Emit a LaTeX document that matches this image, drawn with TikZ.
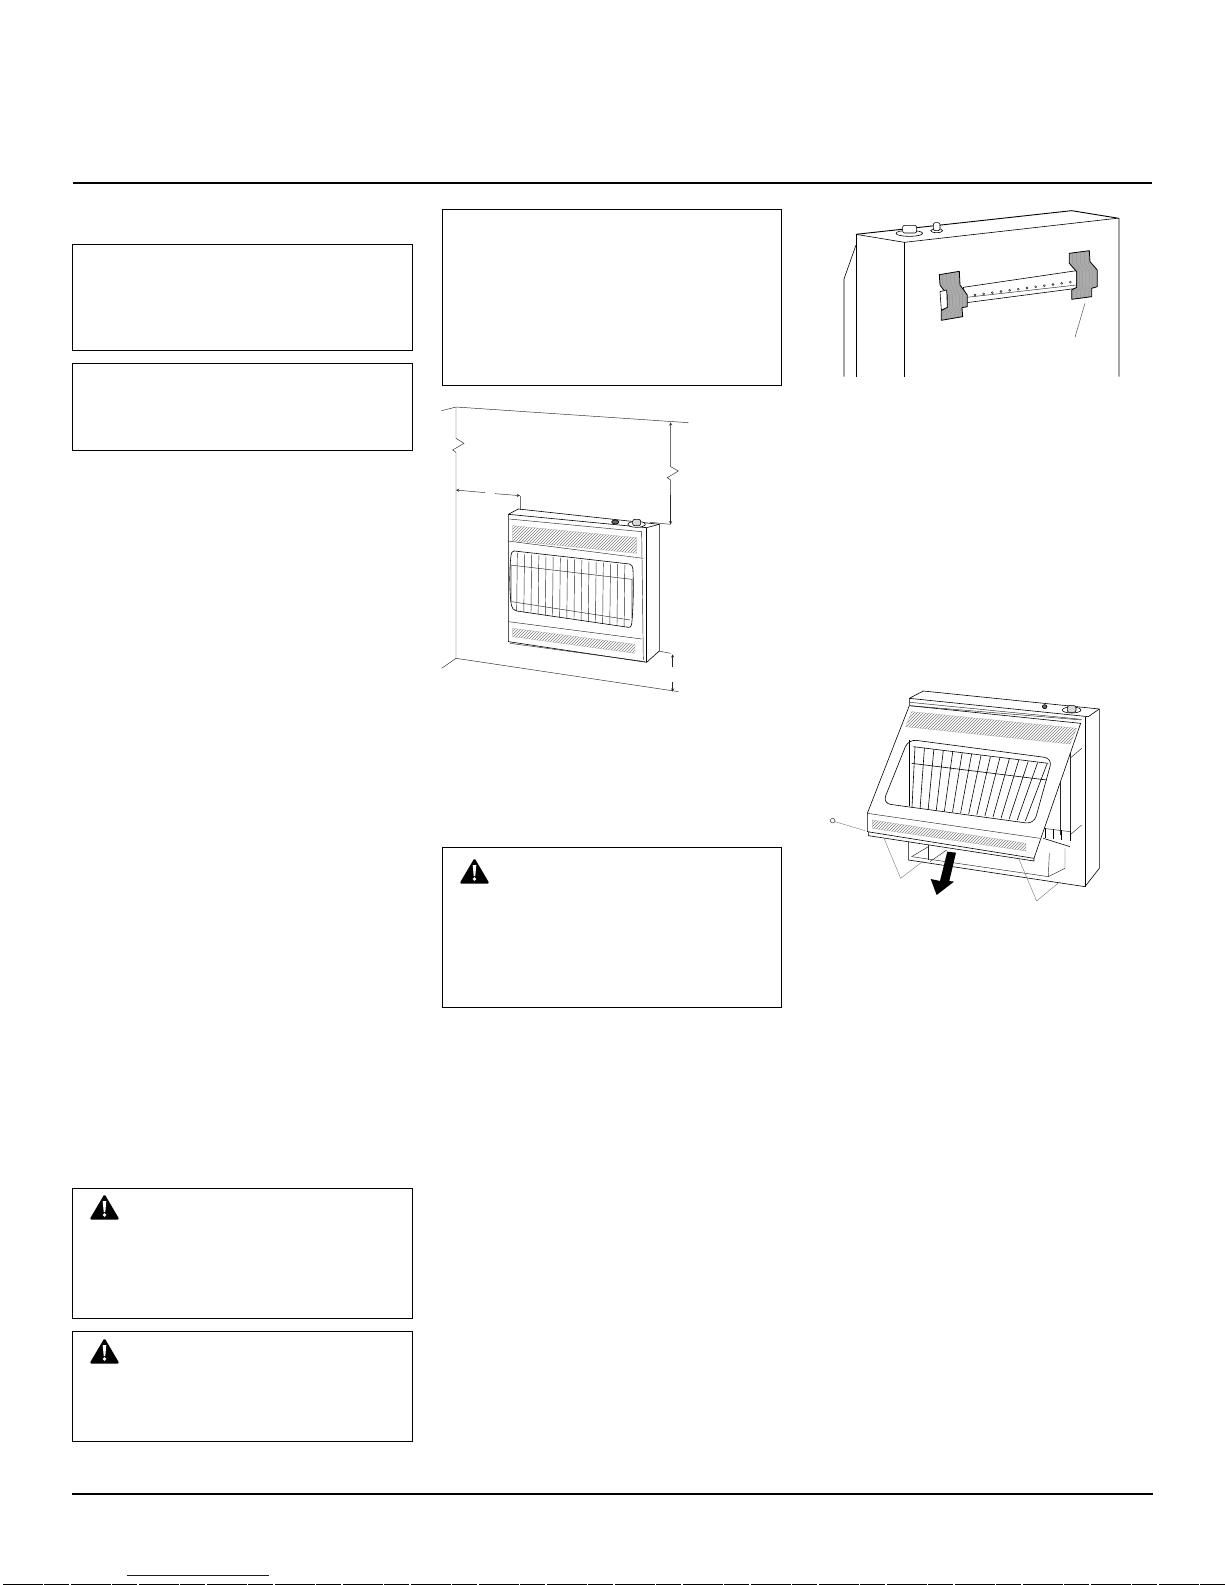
\documentclass[tikz,border=0pt]{standalone}
\usepackage{tikz}
\usetikzlibrary{arrows, patterns}
\tikzset{>=stealth}
\newcommand{\tapeleft}{(358,224)--(418,214)--(420,255)--(442,285)--(442,320)--(426,323)--(428,350)--(364,361)--(364,332)--(382,322)--(382,285)--(360,255)--cycle}
\newcommand{\taperight}{(748,160)--(808,152)--(810,185)--(832,210)--(832,260)--(815,265)--(815,290)--(755,298)--(755,270)--(770,262)--(770,215)--(748,190)--cycle}
\tikzset{
	zoomed/.style 2 args={shift={(#1,#2)},x=0.3333pt,y=-0.3333pt},
	boxline/.style={line width=1.2pt},
	pagerule/.style={line width=2pt},
	part/.style={line width=0.6pt,line join=round},
	thin part/.style={line width=0.45pt,black!85},
	heavy part/.style={line width=0.9pt,line join=round},
	leader/.style={line width=0.4pt,black!55},
	vent/.style={pattern=north east lines,pattern color=black!50,draw=black!40,line width=0.2pt},
	tape/.style={draw=black,line width=0.8pt,line join=round},
	warnsign/.pic={
		\fill [black,rounded corners=1.5pt] (0,0)--(-15,25.5)--(15,25.5)--cycle;
		\fill [white] (-1.8,7)--(1.8,7)--(0.8,18)--(-0.8,18)--cycle;
		\fill [white] (0,21) circle (1.8);
	},
}

\begin{document}
\begin{tikzpicture}[x=1pt,y=-1pt]
	\useasboundingbox (0,0) rectangle (1225,1585);

	\draw [pagerule] (72.8,183.4)--(1152.2,183.4);
	\draw [pagerule] (72,1494)--(1153,1494);
	\draw [blue,line width=0.8pt] (127,1575.3)--(269,1575.3);
	\draw [line width=0.8pt,dash pattern=on 40pt off 1pt on 25pt off 2pt] (3,1584.3)--(1225,1584.3);

	\draw [boxline] (72.5,244.5) rectangle (412.5,350.5);
	\draw [boxline] (72.5,363.5) rectangle (412.5,450.5);
	\draw [boxline] (442.5,209.5) rectangle (781.5,385.5);
	\draw [boxline] (442.5,847.5) rectangle (781.5,1007.5);
	\draw [boxline] (72.5,1188.5) rectangle (412.5,1318.5);
	\draw [boxline] (72.5,1331.5) rectangle (412.5,1441.5);

	\pic at (474.5,858) {warnsign};
	\pic at (104.5,1194) {warnsign};
	\pic at (104.5,1338) {warnsign};

	% wall clearances
	\begin{scope}[zoomed={430}{395}]
		\draw [thin part] (35,47)--(78,36)--(775,83);
		\draw [thin part] (78,36)--(78,130)--(102,145)--(68,165)--(78,172)--(78,790);
		\draw [thin part] (35,820)--(78,790)--(745,890);
		\draw [thin part,<-] (78,285)--(165,293);
		\draw [thin part,->] (195,296)--(270,302);
		\draw [leader] (270,302)--(270,345);
		\draw [thin part,<-] (722,82)--(722,215)--(745,228)--(712,248)--(722,255)--(722,300);
		\draw [thin part,->] (722,300)--(722,388);
		\draw [thin part] (660,382)--(722,388);
		\draw [thin part] (685,768)--(722,775);
		\draw [thin part,<-] (728,778)--(728,815);
		\draw [thin part,->] (728,860)--(728,890);

		\draw [part] (235,358)--(265,342)--(688,388)--(688,768)--(650,802)--(235,740)--cycle;
		\draw [part] (235,358)--(650,398)--(688,388);
		\draw [part] (650,398)--(650,802);
		\draw [thin part] (238,372)--(635,410)--(640,795);
		\draw [thin part] (233,438)--(640,490);
		\draw [thin part] (235,680)--(635,732);
		\draw [thin part] (240,745)--(645,800);
		\draw [vent] (248,392)--(620,428)--(620,475)--(248,437)--cycle;
		\draw [vent] (248,700)--(615,748)--(615,775)--(248,725)--cycle;
		% burner bars
		\draw [line width=1.2pt,black!25] (243,510)--(243,620);
		\draw [line width=1.2pt,black!25] (606,553)--(606,670);
		\draw [thin part] (240,510)--(605,553);
		\draw [thin part] (245,620)--(600,675);
		\foreach \xa in {0,...,15}
			\draw [thin part] (262+\xa*21.5,474+\xa*2.4)--(260+\xa*21.5,648+\xa*3.2);
		\draw [part] (253,468)--(598,507) .. controls (606,508) and (608,515) .. (609,525) .. controls (611,580) and (610,640) .. (605,688) .. controls (604,696) and (600,698) .. (595,697)--(260,648) .. controls (250,646) and (246,640) .. (244,630) .. controls (238,590) and (238,520) .. (243,482) .. controls (244,472) and (248,468) .. (253,468)--cycle;
		% knobs on top
		\draw [part,fill=white] (620,388) ellipse (26 and 9);
		\draw [part,fill=black!15,rounded corners=2pt] (608,373) rectangle (632,392);
		\draw [part,fill=black!60] (556,381) ellipse (11 and 6);
	\end{scope}

	% back of the heater
	\begin{scope}[zoomed={820}{200}]
		\draw [heavy part] (108,103)--(755,32)--(897,55)--(897,530);
		\draw [part] (108,103)--(253,127)--(890,55);
		\draw [part] (108,103)--(108,530);
		\draw [part] (253,127)--(253,530);
		\draw [part] (72,530)--(72,237)--(108,135);
		\draw [part,fill=white] (268,100) ellipse (40 and 9);
		\draw [part,fill=white,rounded corners=2pt] (248,76) rectangle (290,99);
		\draw [part,fill=white] (350,92) ellipse (18 and 6);
		\draw [part,fill=white,rounded corners=2pt] (340,68) rectangle (360,92);

		\draw [part,fill=white] (430,262)--(770,212)--(770,265)--(440,308)--cycle;
		\draw [thin part] (440,292)--(770,255);
		\foreach \xa in {0,...,11}
			\draw [thin part] (465+\xa*26,285-\xa*3.5) circle (3);
		\fill [black!33] \tapeleft;
		\fill [black!33] \taperight;
		\begin{scope}
			\clip \tapeleft;
			\foreach \xa in {0,...,5}
				\draw [thin part,black!40] (368+\xa*12,210)--(368+\xa*12,250)--(388+\xa*10,285)--(388+\xa*10,320)--(368+\xa*12,340)--(368+\xa*12,365);
		\end{scope}
		\begin{scope}
			\clip \taperight;
			\foreach \xa in {0,...,5}
				\draw [thin part,black!40] (758+\xa*12,150)--(758+\xa*12,190)--(778+\xa*10,215)--(778+\xa*10,262)--(758+\xa*12,275)--(758+\xa*12,300);
		\end{scope}
		\draw [tape] \tapeleft;
		\draw [tape] \taperight;
		\draw [part,fill=white] (360,275)--(380,270)--(382,322)--(364,330)--cycle;
		\draw [leader,black!80] (795,310)--(765,412);
	\end{scope}

	% front panel taken off
	\begin{scope}[zoomed={810}{675}]
		\draw [part] (298,90)--(298,70)--(340,48)--(868,102)--(868,580)--(825,635)--(295,555)--(295,500);
		\draw [part] (298,70)--(835,125)--(868,102);
		\draw [part] (825,125)--(825,635);
		\draw [thin part] (300,82)--(815,133);
		\draw [thin part] (305,545)--(715,605)--(718,535);
		\draw [thin part] (715,605)--(765,580)--(765,520);
		\draw [thin part] (355,510)--(355,555);
		\draw [thin part] (305,545)--(355,515);
		\draw [thin part] (360,560)--(410,525);
		\draw [thin part] (780,235)--(780,480);
		\draw [thin part] (780,250)--(815,220);
		\draw [thin part] (780,480)--(815,450);
		\draw [thin part] (750,320)--(750,480);
		\draw [thin part] (700,460)--(780,470);
		\draw [part] (700,490)--(780,515);
		\foreach \xa in {0,...,3}
			\draw [part] (705+\xa*25,460+\xa*3)--(705+\xa*25,490+\xa*3);
		% knobs on top
		\draw [part,fill=white] (785,105) ellipse (28 and 9);
		\draw [part,fill=black!15,rounded corners=2pt] (772,92) rectangle (798,112);
		\draw [part,fill=black!60] (704,95) ellipse (7 and 6);

		\draw [part,fill=white] (298,92)--(812,145)--(672,550)--(172,470)--(172,415)--cycle;
		\draw [part] (175,470)--(175,482)--(672,558)--(672,550);
		\draw [thin part] (172,415)--(690,490);
		\draw [thin part] (300,92)--(815,135);
		\draw [vent] (305,110)--(800,160)--(780,207)--(287,155)--cycle;
		\draw [vent] (187,435)--(648,505)--(648,528)--(187,460)--cycle;
		\draw [part,rounded corners=8pt] (295,193)--(727,250)--(672,447)--(218,385)--cycle;
		\draw [heavy part] (298,195)--(298,392);
		\draw [part] (310,215)--(715,265);
		\draw [part] (305,265)--(710,315);
		\foreach \xa in {0,...,14}
			\draw [part] (315+\xa*28.3,216+\xa*3.6)--(306+\xa*24.3,397+\xa*2.9);

		\fill (412,530)--(438,533)--(418,618)--(432,620)--(380,660)--(362,612)--(390,618)--cycle;
		\draw [thin part] (68,437) circle (7);
		\draw [leader] (75,440)--(165,467);
		\draw [leader] (222,490)--(272,610)--(340,558);
		\draw [leader] (625,548)--(680,678)--(750,620);
	\end{scope}
\end{tikzpicture}
\end{document}
